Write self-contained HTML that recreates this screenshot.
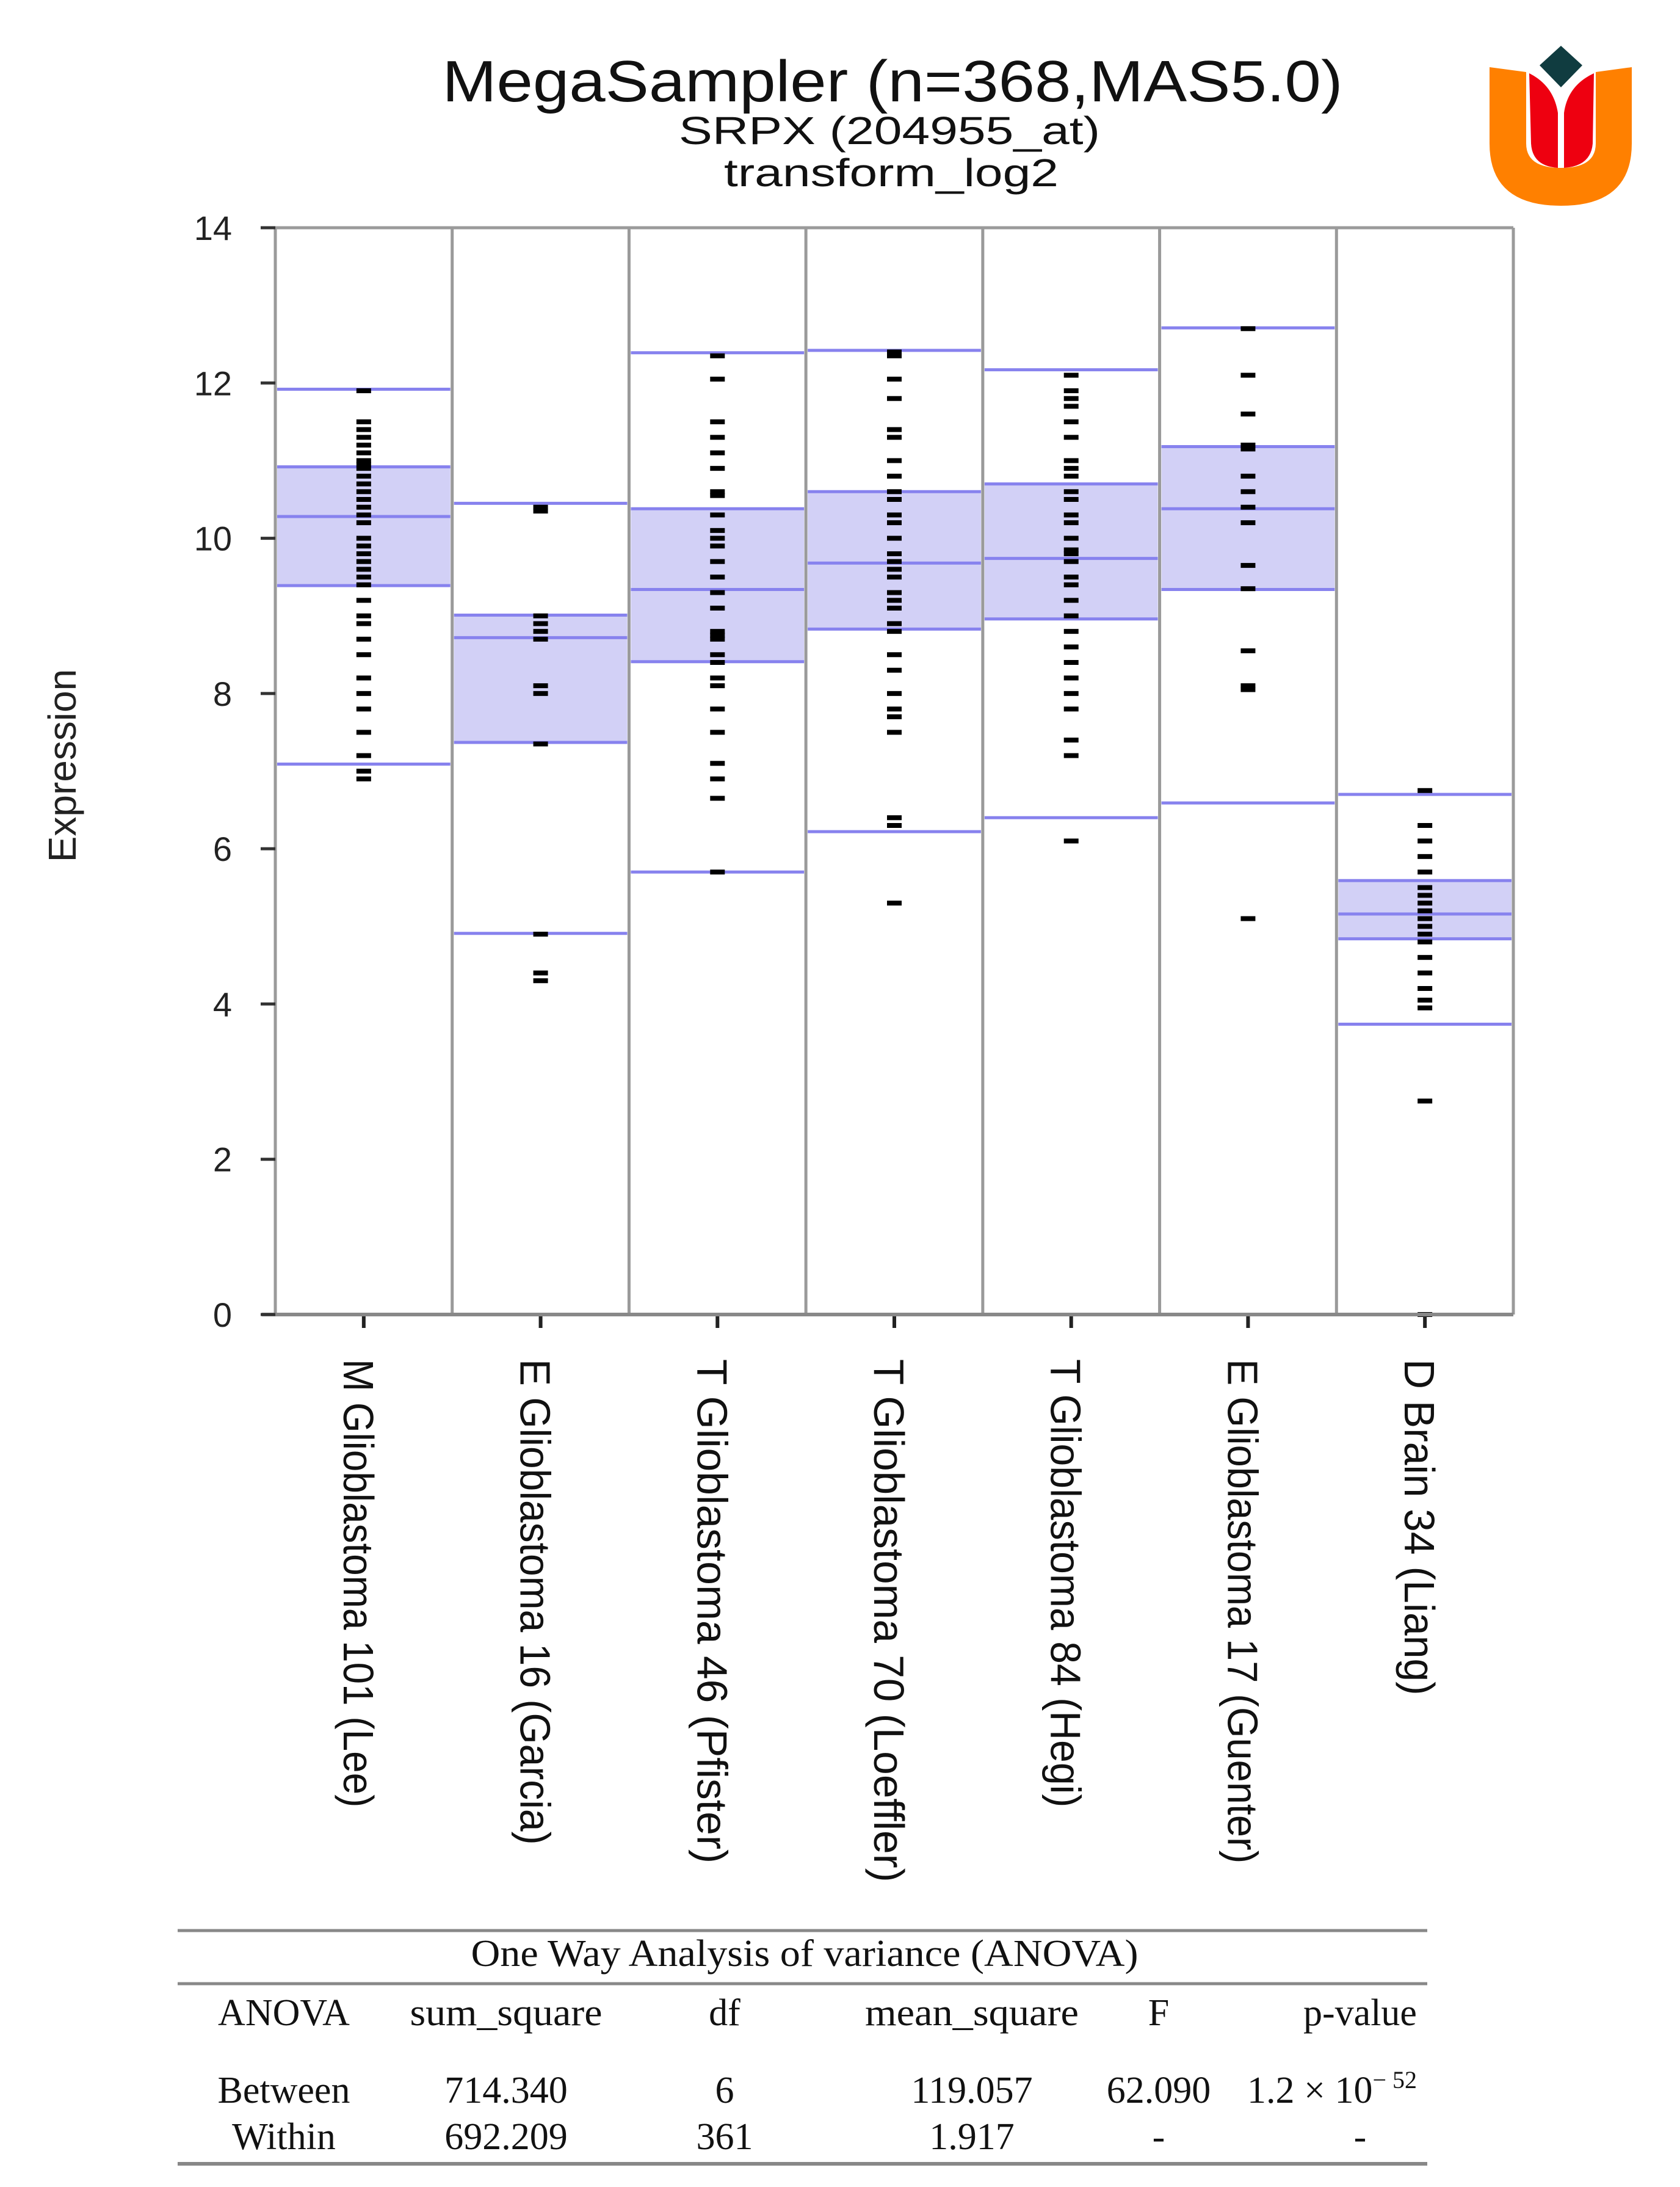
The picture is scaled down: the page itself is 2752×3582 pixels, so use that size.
<!DOCTYPE html>
<html><head><meta charset="utf-8"><style>
html,body{margin:0;padding:0;background:#fff;}
svg{display:block;}
</style></head><body>
<svg id="chart" width="2752" height="3582" viewBox="0 0 2752 3582" xmlns="http://www.w3.org/2000/svg" font-family="Liberation Sans, Arial, sans-serif">
<rect width="2752" height="3582" fill="#fff"/>
<text x="1462" y="166" font-size="96" text-anchor="middle" textLength="1475" lengthAdjust="spacingAndGlyphs" fill="#111">MegaSampler (n=368,MAS5.0)</text>
<text x="1457" y="236" font-size="64" text-anchor="middle" textLength="690" lengthAdjust="spacingAndGlyphs" fill="#111">SRPX (204955_at)</text>
<text x="1460" y="305" font-size="64" text-anchor="middle" textLength="548" lengthAdjust="spacingAndGlyphs" fill="#111">transform_log2</text>
<g>
<path d="M2440,110 L2500,118 L2500,235 Q2500,275 2557,275 Q2614,275 2614,235 L2614,118 L2673,110 L2673,235 Q2673,337 2557,337 Q2440,337 2440,235 Z" fill="#ff8000"/>
<path d="M2505,120 Q2545,140 2552,185 L2552,275 Q2510,272 2508,235 Z" fill="#ee0010"/>
<path d="M2611,120 Q2568,140 2562,185 L2562,275 Q2606,272 2609,235 Z" fill="#ee0010"/>
<path d="M2557,75 L2592,107 L2557,143 L2522,107 Z" fill="#103c40"/>
</g>
<text x="0" y="0" font-size="64" text-anchor="middle" transform="translate(124,1254) rotate(-90)" fill="#222">Expression</text>
<g id="plot"></g>
<g font-family="Liberation Serif, serif" fill="#111">
<line x1="291" y1="3162" x2="2338" y2="3162" stroke="#888" stroke-width="5"/>
<line x1="291" y1="3249" x2="2338" y2="3249" stroke="#888" stroke-width="5"/>
<line x1="291" y1="3544" x2="2338" y2="3544" stroke="#888" stroke-width="6"/>
<text x="1318" y="3220" font-size="62" text-anchor="middle" textLength="1093" lengthAdjust="spacingAndGlyphs">One Way Analysis of variance (ANOVA)</text>
<g font-size="62" text-anchor="middle">
<text x="465" y="3317">ANOVA</text>
<text x="829" y="3317" textLength="315" lengthAdjust="spacingAndGlyphs">sum_square</text>
<text x="1187" y="3317">df</text>
<text x="1592" y="3317" textLength="350" lengthAdjust="spacingAndGlyphs">mean_square</text>
<text x="1898" y="3317">F</text>
<text x="2228" y="3317">p-value</text>
<text x="465" y="3444">Between</text>
<text x="829" y="3444">714.340</text>
<text x="1187" y="3444">6</text>
<text x="1592" y="3444">119.057</text>
<text x="1898" y="3444">62.090</text>
<text x="2043" y="3444" text-anchor="start">1.2 × 10<tspan font-size="40" dy="-24">− 52</tspan></text>
<text x="465" y="3520">Within</text>
<text x="829" y="3520">692.209</text>
<text x="1187" y="3520">361</text>
<text x="1592" y="3520">1.917</text>
<text x="1898" y="3520">-</text>
<text x="2228" y="3520">-</text>
</g>
</g>
</svg>
<script>
const categories = ["M Glioblastoma 101 (Lee)","E Glioblastoma 16 (Garcia)","T Glioblastoma 46 (Pfister)","T Glioblastoma 70 (Loeffler)","T Glioblastoma 84 (Hegi)","E Glioblastoma 17 (Guenter)","D Brain 34 (Liang)"];
const whiskerLow = [7.09, 4.91, 5.70, 6.22, 6.40, 6.59, 3.74];
const q1Values = [9.39, 7.37, 8.41, 8.83, 8.96, 9.34, 4.84];
const medianValues = [10.28, 8.72, 9.34, 9.68, 9.74, 10.38, 5.16];
const q3Values = [10.92, 9.01, 10.38, 10.60, 10.70, 11.18, 5.59];
const whiskerHigh = [11.92, 10.45, 12.39, 12.42, 12.17, 12.71, 6.70];
const points0 = [11.9,11.5,11.4,11.3,11.2,11.1,11.0,10.95,10.9,10.8,10.7,10.6,10.5,10.4,10.3,10.2,10.0,9.9,9.8,9.7,9.6,9.5,9.4,9.2,9.0,8.9,8.7,8.5,8.2,8.0,7.8,7.5,7.2,7.0,6.9];
const points1 = [10.4,10.35,9.0,8.9,8.8,8.7,8.1,8.0,7.35,4.9,4.4,4.3];
const points2 = [12.35,12.05,11.5,11.3,11.1,10.9,10.6,10.55,10.3,10.1,10.0,9.9,9.7,9.5,9.3,9.1,8.8,8.75,8.7,8.5,8.4,8.2,8.1,7.8,7.5,7.1,6.9,6.65,5.7];
const points3 = [12.4,12.35,12.05,11.8,11.4,11.3,11.0,10.8,10.6,10.5,10.3,10.2,10.0,9.8,9.7,9.6,9.5,9.3,9.2,9.1,8.9,8.8,8.5,8.3,8.0,7.8,7.7,7.5,6.4,6.3,5.3];
const points4 = [12.1,11.9,11.8,11.7,11.5,11.3,11.0,10.9,10.8,10.6,10.5,10.3,10.2,10.0,9.85,9.8,9.7,9.5,9.4,9.2,9.0,8.8,8.6,8.4,8.2,8.0,7.8,7.4,7.2,6.1];
const points5 = [12.7,12.1,11.6,11.2,11.15,10.8,10.6,10.4,10.2,9.65,9.35,8.55,8.1,8.05,5.1];
const points6 = [6.75,6.3,6.1,5.9,5.7,5.5,5.4,5.3,5.2,5.1,5.0,4.9,4.8,4.6,4.4,4.2,4.05,3.95,2.75,0];
const yTicks = [0,2,4,6,8,10,12,14];

{
const NS="http://www.w3.org/2000/svg";
const plot=document.getElementById('plot');
const X0=451, X1=2479, Y0=2153, Y14=373;
const colW=(X1-X0)/categories.length;
function yScale(v){return Y0-(v/14)*(Y0-Y14);}
function xLeft(i){return X0+i*colW;}
function xCenter(i){return X0+(i+0.5)*colW;}
function mk(tag,attrs,parent){const e=document.createElementNS(NS,tag);for(const k in attrs)e.setAttribute(k,attrs[k]);(parent||plot).appendChild(e);return e;}
const allPoints=[points0,points1,points2,points3,points4,points5,points6];

categories.forEach((c,i)=>{
  const g=mk('g',{});
  
  
  const xl=xLeft(i)+3, w=colW-6;
  const box=mk('rect',{x:xl,y:yScale(q3Values[i]),width:w,height:yScale(q1Values[i])-yScale(q3Values[i]),fill:'#d2d0f6'},g);
  
  
  const lines=[[whiskerLow[i],'whisker-low'],[q1Values[i],'q1-line'],[medianValues[i],'median-line'],[q3Values[i],'q3-line'],[whiskerHigh[i],'whisker-high']];
  lines.forEach(([v,n])=>{
    const l=mk('line',{x1:xl,x2:xl+w,y1:yScale(v),y2:yScale(v),stroke:'#8782ee','stroke-width':5},g);
    
    
  });
  allPoints[i].forEach(v=>{
    const p=mk('rect',{x:xCenter(i)-12,y:yScale(v)-4,width:24,height:8,fill:'#000'},g);
    
    
  });
  const t=mk('line',{x1:xCenter(i),x2:xCenter(i),y1:Y0,y2:Y0+22,stroke:'#222','stroke-width':6});
  
  
  const lab=mk('text',{x:0,y:0,'font-size':70,fill:'#111',transform:'translate('+(xCenter(i)-33)+',2226) rotate(90)'});
  lab.textContent=c;
  lab.setAttribute('textLength',String(c.length*30.6));
  lab.setAttribute('lengthAdjust','spacingAndGlyphs');
  
  
});
for(let i=0;i<=categories.length;i++){
  const s=mk('line',{x1:xLeft(i),x2:xLeft(i),y1:Y14,y2:Y0,stroke:'#9a9a9a','stroke-width':5});
  
  
}
const plotTop=mk('line',{x1:X0,x2:X1,y1:Y14,y2:Y14,stroke:'#9a9a9a','stroke-width':5});


const xa=mk('line',{x1:X0-22,x2:X1,y1:Y0,y2:Y0,stroke:'#888','stroke-width':6});


yTicks.forEach(v=>{
  const t=mk('line',{x1:X0-24,x2:X0,y1:yScale(v),y2:yScale(v),stroke:'#333','stroke-width':5});
  
  
  const l=mk('text',{x:380,y:yScale(v)+20,'font-size':56,'text-anchor':'end',fill:'#222'});
  l.textContent=String(v);
  
  
});
}
</script>
</body></html>
